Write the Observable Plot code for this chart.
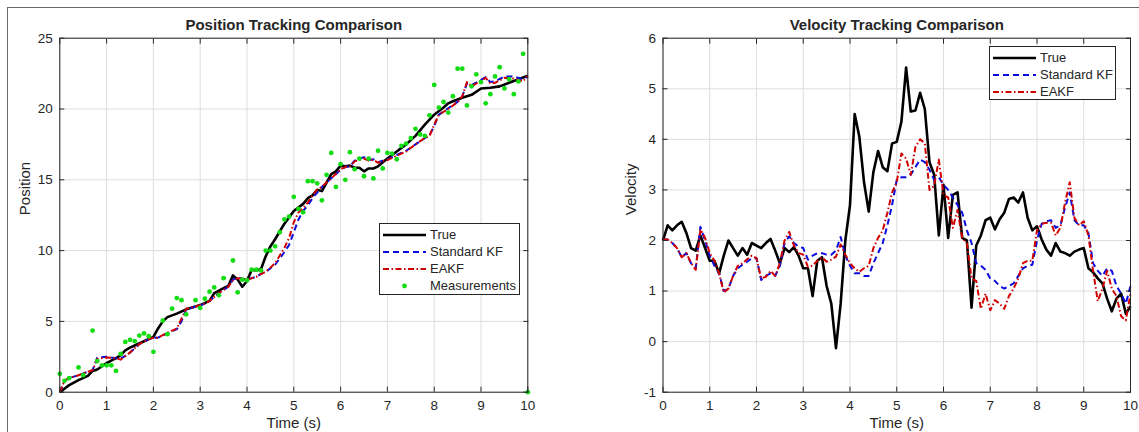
<!DOCTYPE html>
<html>
<head>
<meta charset="utf-8">
<script src="https://cdn.jsdelivr.net/npm/d3@7"></script>
<script src="https://cdn.jsdelivr.net/npm/@observablehq/plot@0.6"></script>
<style>
  html, body { margin: 0; padding: 0; background: #fff; }
  #root { position: relative; width: 1139px; height: 432px; overflow: hidden; background: #fff; font-family: "Liberation Sans", Arial, sans-serif; }
  .panel { position: absolute; top: 0; }
  .legend { position: absolute; background: #fff; border: 1px solid #262626; box-sizing: border-box; padding-top: 2px; }
  .legend .row { display: flex; align-items: center; height: 17px; font-size: 13px; color: #262626; }
  .legend svg { margin-left: 3px; margin-right: 4px; flex: none; }
  .frameline { position: absolute; background: #6b6b6b; }
</style>
</head>
<body>
<div id="root"></div>
<script>
// ---------- DATA ----------
const xTicks = [0,1,2,3,4,5,6,7,8,9,10];
const posTicks = [0,5,10,15,20,25];
const velTicks = [-1,0,1,2,3,4,5,6];

// Position panel
const posTrueT = [0,0.2,0.4,0.6,0.7,0.8,1.0,1.2,1.3,1.4,1.5,1.6,1.8,2.0,2.1,2.2,2.3,2.5,2.7,2.9,3.0,3.2,3.3,3.5,3.6,3.7,3.8,3.9,4.0,4.1,4.2,4.3,4.4,4.5,4.6,4.8,5.0,5.2,5.3,5.4,5.5,5.6,5.7,5.8,5.9,6.0,6.1,6.2,6.3,6.4,6.5,6.6,6.7,6.8,7.0,7.2,7.4,7.6,7.8,8.0,8.2,8.3,8.4,8.6,8.8,9.0,9.2,9.4,9.6,9.8,10.0];
const posTrue = [0,0.5,0.85,1.15,1.5,1.6,2.05,2.4,2.6,2.95,3.15,3.3,3.6,3.9,4.5,5.0,5.3,5.55,5.85,6.05,6.15,6.45,7.0,7.35,7.5,8.25,7.95,7.45,7.85,8.65,8.6,8.7,9.6,10.3,10.8,11.9,12.8,13.3,13.7,13.9,14.3,14.2,14.8,15.4,15.6,16.0,15.95,16.0,15.85,15.85,15.6,15.8,15.8,15.95,16.5,17.0,17.5,18.1,18.9,19.6,20.1,20.4,20.55,20.8,21.0,21.45,21.5,21.6,21.85,22.1,22.35];

const posFiltT = [0,0.1,0.2,0.4,0.6,0.7,0.8,1.0,1.2,1.3,1.5,1.7,1.9,2.0,2.1,2.3,2.5,2.6,2.7,2.9,3.1,3.2,3.4,3.6,3.7,3.8,4.0,4.2,4.3,4.4,4.6,4.8,4.9,5.0,5.1,5.2,5.3,5.4,5.5,5.6,5.8,6.0,6.1,6.2,6.3,6.5,6.6,6.7,6.8,7.0,7.2,7.4,7.6,7.8,7.9,8.0,8.1,8.3,8.5,8.6,8.7,8.8,9.0,9.1,9.2,9.3,9.5,9.7,9.9,10.0];
const posEAKF = [0,0.8,1.0,1.2,1.45,1.55,2.35,2.45,2.4,2.3,2.8,3.4,3.75,3.85,3.85,4.2,4.5,5.2,5.9,6.05,6.25,6.45,7.0,7.45,7.9,8.05,7.95,8.15,8.35,8.5,9.1,10.2,10.9,12.0,12.7,13.0,13.4,13.9,14.3,14.5,15.1,15.75,15.9,15.95,16.3,16.5,16.35,16.4,16.2,16.4,16.7,17.0,17.5,17.95,18.1,18.9,19.6,20.0,20.5,20.9,21.9,21.6,22.0,22.2,21.8,21.85,22.2,22.15,21.95,22.35];
const posKF = [0,0.8,1.0,1.2,1.45,1.55,2.45,2.5,2.4,2.35,2.8,3.4,3.75,3.85,3.85,4.15,4.45,5.0,5.85,6.05,6.25,6.45,7.0,7.45,7.95,8.1,7.95,8.15,8.35,8.5,9.0,9.9,10.4,11.3,12.2,12.8,13.2,13.7,14.1,14.5,15.1,15.7,15.9,15.95,16.35,16.6,16.4,16.45,16.25,16.45,16.75,17.05,17.5,17.95,18.15,18.8,19.6,20.05,20.5,20.9,21.8,21.7,22.05,22.25,21.9,21.95,22.3,22.3,22.1,22.3];

const measT = [0,0.1,0.2,0.4,0.5,0.7,0.8,0.9,1.0,1.1,1.2,1.3,1.4,1.5,1.6,1.7,1.8,1.9,2.0,2.2,2.3,2.4,2.5,2.6,2.7,2.9,3.0,3.1,3.2,3.3,3.4,3.5,3.7,3.8,3.9,4.0,4.1,4.2,4.3,4.4,4.5,4.6,4.7,4.8,4.9,5.0,5.1,5.2,5.3,5.4,5.5,5.6,5.7,5.8,5.9,6.0,6.1,6.2,6.3,6.4,6.5,6.6,6.7,6.8,6.9,7.0,7.1,7.2,7.3,7.4,7.5,7.6,7.7,7.8,7.9,8.0,8.1,8.2,8.3,8.4,8.5,8.6,8.7,8.8,8.9,9.0,9.1,9.2,9.3,9.4,9.5,9.6,9.7,9.8,9.9,10.0];
const measP = [1.3,0.8,1.0,1.75,1.2,4.35,2.2,1.9,1.9,1.9,1.5,2.7,3.55,3.7,3.6,4.0,4.15,3.95,2.85,5.05,4.1,5.9,6.65,6.5,5.5,6.5,5.95,6.6,7.1,7.4,6.85,8.05,9.3,7.05,7.95,7.9,8.65,8.65,8.6,10.0,10.0,10.3,11.3,12.2,12.4,13.8,12.95,12.7,14.9,14.9,14.75,13.55,15.35,16.9,14.5,16.1,15.0,16.95,15.75,16.5,15.25,16.5,15.1,17.05,15.8,16.9,16.85,16.45,17.4,17.55,17.95,18.6,18.2,18.1,19.55,21.7,20.1,20.5,19.75,20.9,22.85,22.85,20.25,21.6,22.45,21.9,20.4,21.05,22.3,22.95,21.45,22.1,21.05,21.95,23.9,0];

// Velocity panel (sampled every 0.1 s, 0..10)
const velT = [0,0.1,0.2,0.3,0.4,0.5,0.6,0.7,0.8,0.9,1,1.1,1.2,1.3,1.4,1.5,1.6,1.7,1.8,1.9,2,2.1,2.2,2.3,2.4,2.5,2.6,2.7,2.8,2.9,3,3.1,3.2,3.3,3.4,3.5,3.6,3.7,3.8,3.9,4,4.1,4.2,4.3,4.4,4.5,4.6,4.7,4.8,4.9,5,5.1,5.2,5.3,5.4,5.5,5.6,5.7,5.8,5.9,6,6.1,6.2,6.3,6.4,6.5,6.6,6.7,6.8,6.9,7,7.1,7.2,7.3,7.4,7.5,7.6,7.7,7.8,7.9,8,8.1,8.2,8.3,8.4,8.5,8.6,8.7,8.8,8.9,9,9.1,9.2,9.3,9.4,9.5,9.6,9.7,9.8,9.9,10];
const velTrue = [2.0,2.3,2.2,2.3,2.37,2.15,1.85,1.8,2.1,1.85, 1.6,1.6,1.35,1.7,2.0,1.85,1.7,1.85,1.72,1.95, 1.9,1.85,1.95,2.03,1.8,1.55,1.85,1.77,1.87,1.7, 1.45,1.45,0.9,1.6,1.67,1.1,0.75,-0.13,0.75,2.0, 2.7,4.5,4.05,3.15,2.57,3.35,3.77,3.45,3.37,3.92, 3.95,4.35,5.42,4.55,4.57,4.92,4.6,3.55,3.3,2.1, 3.1,2.05,2.9,2.95,2.05,2.0,0.67,1.9,2.1,2.4, 2.45,2.22,2.42,2.55,2.82,2.85,2.75,2.95,2.45,2.2, 2.28,2.02,1.82,1.7,1.95,1.78,1.75,1.7,1.78,1.82, 1.85,1.45,1.37,1.25,1.15,0.85,0.6,0.85,0.95,0.55, 0.7];
const velKF = [2.02,2.02,1.95,1.85,1.67,1.75,1.55,1.45,2.27,2.0, 1.7,1.5,1.35,1.0,1.05,1.3,1.45,1.52,1.58,1.65, 1.65,1.22,1.3,1.35,1.3,1.5,1.95,2.08,1.95,1.88, 1.85,1.62,1.7,1.75,1.75,1.72,1.72,1.8,2.07,1.7, 1.5,1.35,1.35,1.3,1.3,1.55,1.75,1.95,2.3,2.7, 3.2,3.25,3.25,3.3,3.45,3.6,3.55,3.4,3.2,3.25, 3.1,3.0,2.85,2.7,2.55,2.2,1.95,1.55,1.5,1.42, 1.25,1.2,1.1,1.05,1.1,1.15,1.3,1.45,1.5,1.52, 2.0,2.33,2.38,2.4,2.25,2.3,2.65,2.95,2.4,2.3, 2.3,2.15,1.55,1.4,1.3,1.45,1.4,1.1,0.95,0.75, 1.1];
const velEAKF = [2.02,2.02,1.95,1.85,1.67,1.75,1.55,1.42,2.22,2.05, 1.75,1.6,1.35,0.97,1.05,1.3,1.5,1.55,1.63,1.7, 1.65,1.25,1.28,1.4,1.3,1.55,2.0,2.17,1.9,1.75, 1.72,1.48,1.5,1.6,1.67,1.58,1.62,1.68,1.92,1.72, 1.55,1.45,1.38,1.45,1.5,1.85,2.05,2.2,2.55,2.95, 3.15,3.72,3.62,3.3,3.85,4.0,3.92,3.0,3.08,3.6, 2.9,2.85,2.25,2.6,2.05,1.95,1.25,1.2,0.65,0.95, 0.62,0.82,0.75,0.65,0.9,1.05,1.25,1.55,1.6,1.6, 2.2,2.33,2.35,2.35,2.1,2.25,2.75,3.15,2.45,2.3, 2.38,2.1,1.4,0.8,1.05,1.4,1.05,0.9,0.5,0.42, 0.95];

const seriesNames = ["True", "Standard KF", "EAKF", "Measurements"];

// ---------- STYLE ----------
const C = {true: "#000000", kf: "#0a0adc", eakf: "#d00000", meas: "#12dc12", axis: "#262626", grid: "#dedede"};
const FONT = '"Liberation Sans", Arial, sans-serif';
const fmt = (d) => String(d);

function zip(t, v) { return t.map((x, i) => ({t: x, v: v[i]})); }

function panel({title, ylabel, ydomain, yticks, lines, points, width, margins, ylabelDx}) {
  const marks = [
    Plot.gridX(xTicks, {stroke: C.grid, strokeOpacity: 1}),
    Plot.gridY(yticks, {stroke: C.grid, strokeOpacity: 1}),
  ];
  for (const L of lines) {
    marks.push(Plot.line(zip(L.t, L.v), {x: "t", y: "v", stroke: L.color, strokeWidth: L.width, strokeDasharray: L.dash, strokeLinejoin: "round", strokeLinecap: "butt"}));
  }
  if (points) marks.push(Plot.dot(zip(points.t, points.v), {x: "t", y: "v", r: 2.4, fill: C.meas, stroke: "none"}));
  marks.push(
    Plot.frame({stroke: C.axis, strokeWidth: 1}),
    Plot.axisX(xTicks, {anchor: "bottom", tickSize: -5, tickPadding: 13, tickFormat: fmt, label: null, fontSize: 13.5, color: C.axis, stroke: C.axis}),
    Plot.axisX(xTicks, {anchor: "top", tickSize: -5, tickFormat: () => "", label: null, stroke: C.axis}),
    Plot.axisY(yticks, {anchor: "left", tickSize: -5, tickPadding: 12, tickFormat: fmt, label: null, fontSize: 13.5, color: C.axis, stroke: C.axis}),
    Plot.axisY(yticks, {anchor: "right", tickSize: -5, tickFormat: () => "", label: null, stroke: C.axis}),
    Plot.text([title], {frameAnchor: "top", lineAnchor: "middle", dy: -13, fontWeight: "bold", fontSize: 15, fill: C.axis}),
    Plot.text(["Time (s)"], {frameAnchor: "bottom", lineAnchor: "middle", dy: 31, fontSize: 15, fill: C.axis}),
    Plot.text([ylabel], {frameAnchor: "left", lineAnchor: "middle", dx: ylabelDx, rotate: -90, fontSize: 15, fill: C.axis})
  );
  return Plot.plot({
    width, height: 432,
    marginLeft: margins[0], marginRight: margins[1], marginTop: margins[2], marginBottom: margins[3],
    style: {fontFamily: FONT, background: "transparent", overflow: "visible"},
    x: {domain: [0, 10]},
    y: {domain: ydomain},
    marks
  });
}

const root = document.getElementById("root");

const leftPanel = panel({
  title: "Position Tracking Comparison", ylabel: "Position",
  ydomain: [0, 25], yticks: posTicks, width: 570, margins: [59.3, 42.7, 37.7, 40.3], ylabelDx: -35,
  lines: [
    {t: posTrueT, v: posTrue, color: C.true, width: 2.6},
    {t: posFiltT, v: posKF, color: C.kf, width: 2, dash: "6,4"},
    {t: posFiltT, v: posEAKF, color: C.eakf, width: 2, dash: "6,2.5,1.5,2.5"}
  ],
  points: {t: measT, v: measP}
});
leftPanel.classList.add("panel"); leftPanel.style.left = "0px";
root.appendChild(leftPanel);

const rightPanel = panel({
  title: "Velocity Tracking Comparison", ylabel: "Velocity",
  ydomain: [-1, 6], yticks: velTicks, width: 569, margins: [92.5, 9, 37.7, 40.3], ylabelDx: -32,
  lines: [
    {t: velT, v: velTrue, color: C.true, width: 2.6},
    {t: velT, v: velKF, color: C.kf, width: 2, dash: "6,4"},
    {t: velT, v: velEAKF, color: C.eakf, width: 2, dash: "6,2.5,1.5,2.5"}
  ]
});
rightPanel.classList.add("panel"); rightPanel.style.left = "570px";
root.appendChild(rightPanel);

// ---------- LEGENDS ----------
const legendStyles = {
  "True": {color: C.true, width: 2.6},
  "Standard KF": {color: C.kf, width: 2, dash: "6,4"},
  "EAKF": {color: C.eakf, width: 2, dash: "6,2.5,1.5,2.5"},
  "Measurements": {dot: true}
};
function legend(names, x, y, w, h) {
  const div = document.createElement("div");
  div.className = "legend";
  Object.assign(div.style, {left: x + "px", top: y + "px", width: w + "px", height: h + "px"});
  for (const n of names) {
    const s = legendStyles[n];
    const row = document.createElement("div");
    row.className = "row";
    const svg = d3.create("svg").attr("width", 43).attr("height", 10);
    if (s.dot) svg.append("circle").attr("cx", 21.5).attr("cy", 5).attr("r", 2.4).attr("fill", C.meas);
    else svg.append("line").attr("x1", 0).attr("x2", 43).attr("y1", 5).attr("y2", 5)
      .attr("stroke", s.color).attr("stroke-width", s.width).attr("stroke-dasharray", s.dash || null);
    row.appendChild(svg.node());
    const span = document.createElement("span");
    span.textContent = n;
    row.appendChild(span);
    div.appendChild(row);
  }
  root.appendChild(div);
}
legend(seriesNames, 379, 223, 141, 72);
legend(seriesNames.slice(0, 3), 989, 46, 127, 54);

// window frame edges
const edgeTop = document.createElement("div"); edgeTop.className = "frameline";
Object.assign(edgeTop.style, {left: "7px", top: "7px", width: "1132px", height: "1px"});
const edgeLeft = document.createElement("div"); edgeLeft.className = "frameline";
Object.assign(edgeLeft.style, {left: "7px", top: "7px", width: "1px", height: "425px"});
root.appendChild(edgeTop); root.appendChild(edgeLeft);
</script>
</body>
</html>
